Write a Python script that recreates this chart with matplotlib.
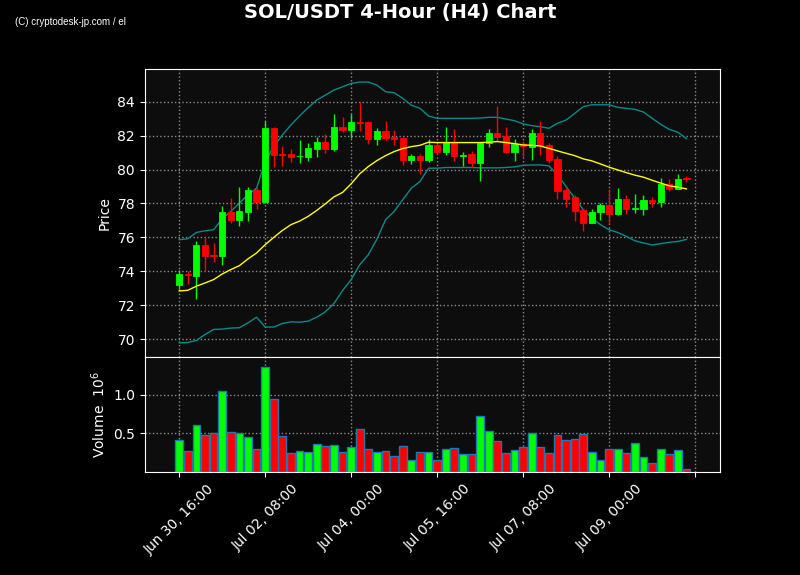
import pandas as pd
import numpy as np
import matplotlib
matplotlib.use('Agg')
from matplotlib import pyplot as plt
import matplotlib.dates as mdates

plt.rcParams['font.family'] = ['DejaVu Sans']

# 4h candles
times = pd.date_range('2025-06-30 16:00', periods=60, freq='4h')

opens = [73.22, 73.86, 73.75, 75.57, 74.98, 74.88, 77.49, 77.04, 77.51, 78.80,
         78.06, 82.45, 80.92, 80.92, 80.78, 80.76, 81.24, 81.63, 81.24, 82.51,
         82.33, 82.80, 82.80, 81.80, 82.27, 81.90, 81.86, 80.59, 80.80, 80.59,
         81.45, 81.04, 81.61, 80.82, 80.92, 80.39, 81.55, 82.16, 81.98, 81.06,
         81.51, 81.35, 82.16, 81.43, 80.63, 78.80, 78.39, 77.63, 76.82, 77.47,
         77.92, 77.39, 78.27, 77.67, 77.65, 78.22, 78.10, 79.16, 78.88, 79.49]
highs = [74.06, 74.00, 75.76, 75.96, 75.67, 77.86, 78.33, 79.00, 79.00, 78.94,
         82.86, 82.49, 81.39, 81.20, 81.75, 81.55, 81.90, 82.10, 83.27, 83.08,
         83.27, 84.00, 82.84, 82.43, 82.84, 82.33, 81.90, 80.92, 80.90, 81.78,
         81.55, 82.49, 82.37, 81.06, 81.12, 81.55, 82.41, 83.76, 82.53, 81.78,
         81.67, 82.37, 82.84, 81.55, 80.82, 78.94, 78.51, 77.69, 77.69, 78.02,
         78.86, 78.90, 78.51, 78.55, 78.47, 78.39, 79.49, 79.43, 79.73, 79.63]
lows = [72.88, 73.27, 72.37, 74.04, 74.55, 74.35, 76.84, 76.67, 76.94, 77.67,
        78.02, 80.14, 80.22, 80.45, 80.37, 80.51, 80.73, 80.96, 81.12, 82.20,
        81.84, 82.29, 81.49, 81.43, 81.73, 81.47, 80.25, 80.31, 79.73, 80.45,
        80.84, 80.84, 80.51, 80.22, 80.14, 79.31, 81.31, 81.71, 81.00, 80.51,
        80.76, 80.55, 80.86, 80.37, 78.27, 77.82, 76.96, 76.37, 76.82, 77.02,
        76.76, 77.31, 77.35, 77.43, 77.31, 77.78, 77.82, 78.76, 78.84, 79.25]
closes = [73.86, 73.77, 75.57, 74.92, 74.88, 77.51, 77.04, 77.57, 78.80, 78.06,
          82.45, 80.88, 80.86, 80.76, 80.80, 81.27, 81.63, 81.24, 82.51, 82.35,
          82.80, 82.76, 81.80, 82.27, 81.86, 81.82, 80.59, 80.80, 80.59, 81.45,
          81.06, 81.61, 80.82, 80.86, 80.39, 81.55, 82.16, 81.92, 81.06, 81.51,
          81.39, 82.16, 81.43, 80.57, 78.75, 78.27, 77.57, 76.82, 77.51, 77.92,
          77.39, 78.27, 77.65, 77.71, 78.22, 78.06, 79.16, 78.88, 79.45, 79.45]
volumes = [0.410, 0.270, 0.615, 0.474, 0.500, 1.050, 0.513, 0.500, 0.449, 0.295,
           1.359, 0.949, 0.462, 0.244, 0.270, 0.256, 0.359, 0.333, 0.346, 0.256,
           0.320, 0.551, 0.295, 0.256, 0.270, 0.205, 0.333, 0.154, 0.256, 0.256,
           0.154, 0.295, 0.308, 0.231, 0.231, 0.731, 0.526, 0.397, 0.244, 0.282,
           0.320, 0.500, 0.320, 0.244, 0.474, 0.410, 0.423, 0.487, 0.256, 0.154,
           0.295, 0.295, 0.244, 0.372, 0.192, 0.115, 0.295, 0.231, 0.282, 0.038]

# bollinger bands (20)
bb_mid = [72.84, 72.88, 73.12, 73.31, 73.51, 73.84, 74.10, 74.33, 74.73, 75.08,
          75.57, 76.00, 76.41, 76.75, 76.96, 77.24, 77.59, 77.98, 78.39, 78.65,
          79.16, 79.75, 80.18, 80.53, 80.82, 81.06, 81.24, 81.35, 81.43, 81.61,
          81.59, 81.59, 81.59, 81.59, 81.59, 81.59, 81.61, 81.65, 81.59, 81.53,
          81.45, 81.43, 81.39, 81.25, 81.10, 80.96, 80.82, 80.63, 80.51, 80.33,
          80.14, 79.98, 79.82, 79.67, 79.55, 79.37, 79.20, 79.04, 78.96, 78.86]
bb_upper = [75.86, 75.92, 76.29, 76.39, 76.45, 77.08, 77.53, 78.02, 78.51, 78.90,
            80.47, 81.35, 82.04, 82.63, 83.16, 83.65, 84.10, 84.39, 84.69, 84.88,
            85.08, 85.16, 85.16, 84.98, 84.59, 84.53, 84.20, 83.80, 83.61, 83.16,
            83.02, 83.02, 83.02, 83.02, 83.02, 83.04, 83.08, 83.08, 82.98, 82.88,
            82.69, 82.59, 82.53, 82.43, 82.73, 82.92, 83.31, 83.71, 83.82, 83.82,
            83.82, 83.67, 83.61, 83.55, 83.39, 83.02, 82.67, 82.37, 82.20, 81.82]
bb_lower = [69.78, 69.80, 69.92, 70.27, 70.57, 70.59, 70.65, 70.67, 70.96, 71.29,
            70.71, 70.71, 70.92, 71.02, 71.00, 71.06, 71.29, 71.61, 72.10, 72.86,
            73.51, 74.39, 74.98, 75.90, 77.04, 77.53, 78.22, 78.90, 79.29, 80.08,
            80.08, 80.12, 80.12, 80.12, 80.12, 80.10, 80.10, 80.10, 80.12, 80.16,
            80.25, 80.27, 80.27, 80.22, 79.69, 79.00, 78.31, 77.63, 77.14, 76.75,
            76.45, 76.29, 76.06, 75.80, 75.67, 75.55, 75.63, 75.71, 75.76, 75.88]

up_col = '#00ff00'
dn_col = '#ff0000'

x = mdates.date2num(times)
o = np.array(opens)
c = np.array(closes)
up = c >= o
colors = np.where(up, up_col, dn_col)

fig = plt.figure(figsize=(8, 5.75), dpi=100, facecolor='black')
gs = fig.add_gridspec(2, 1, height_ratios=[2.5, 1], hspace=0,
                      left=0.181, right=0.9, top=0.88, bottom=0.179)
ax = fig.add_subplot(gs[0])
axv = fig.add_subplot(gs[1], sharex=ax)

for a in (ax, axv):
    a.set_facecolor('#0d0d0d')
    for s in a.spines.values():
        s.set_color('white')
    a.tick_params(colors='white', labelsize=10)
    a.grid(True, color='#aaaaaa', linestyle=':', linewidth=1, alpha=0.8)
    a.set_axisbelow(True)

# candles
ax.vlines(x, lows, highs, colors=colors, linewidth=1, zorder=2)
ax.bar(x, c - o, bottom=o, width=0.12, color=colors, edgecolor=colors,
       linewidth=0.6, zorder=3)

ax.plot(x, bb_mid, color='yellow', linewidth=1, zorder=4)
ax.plot(x, bb_upper, color='#0a8a8a', linewidth=1, zorder=1)
ax.plot(x, bb_lower, color='#0a8a8a', linewidth=1, zorder=1)

ax.set_ylim(68.95, 85.93)
ax.set_yticks([70, 72, 74, 76, 78, 80, 82, 84])
ax.set_ylabel('Price', color='white', fontsize=10)
ax.tick_params(axis='x', labelbottom=False, length=0)

# volume
axv.bar(x, volumes, width=0.15, color=colors, edgecolor='#1f77b4', linewidth=1, zorder=2)
axv.set_ylim(0, 1.49)
axv.set_yticks([0.5, 1.0])
axv.set_ylabel('Volume  $10^{6}$', color='white', fontsize=10)

ticks = pd.date_range('2025-06-30 16:00', periods=7, freq='40h')
axv.set_xticks(mdates.date2num(ticks))
axv.set_xticklabels([t.strftime('%b %d, %H:%M') for t in ticks[:-1]] + [''],
                    rotation=45, ha='center')
axv.set_xlim(x[0] - 16 / 24, x[-1] + 15.6 / 24)

fig.suptitle('SOL/USDT 4-Hour (H4) Chart', color='white', fontsize=14,
             fontweight='bold', y=0.995)
fig.text(0.019, 0.957, '(C) cryptodesk-jp.com / el', color='white', fontsize=7,
         family=['Liberation Sans', 'DejaVu Sans'])

fig.savefig('out.png', dpi=100, facecolor='black')
